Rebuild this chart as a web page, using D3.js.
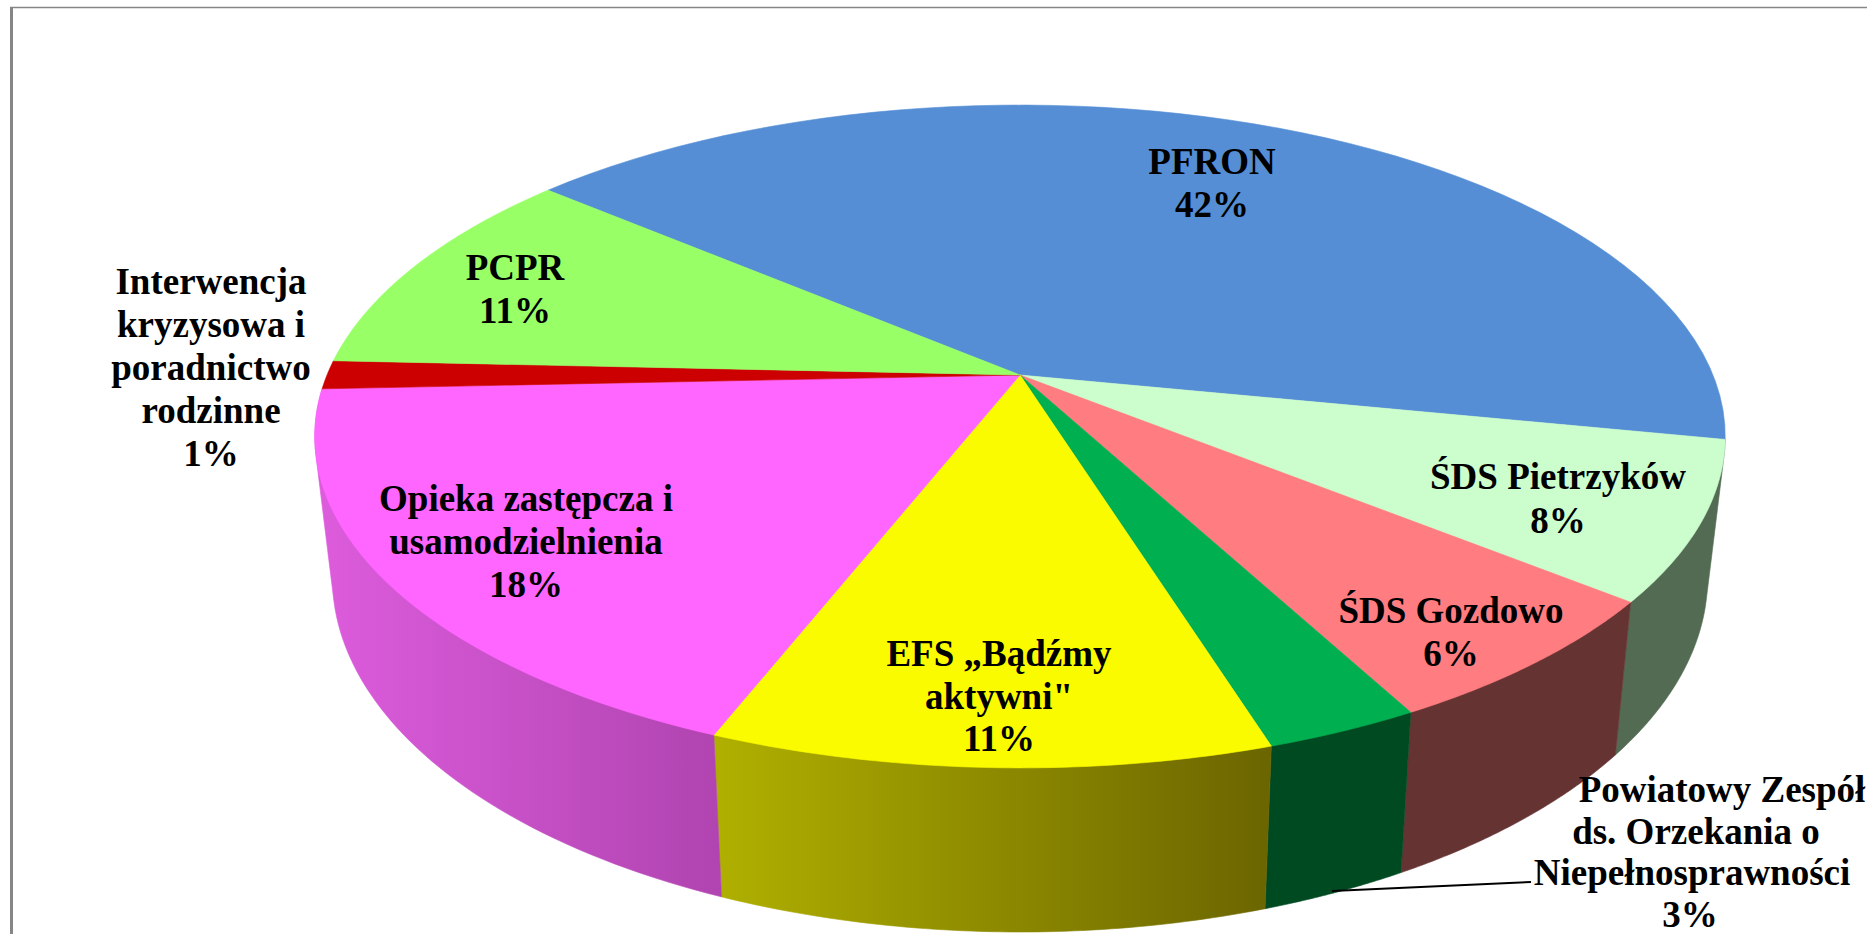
<!DOCTYPE html>
<html lang="pl">

<head>
    <meta charset="UTF-8">
    <title>Struktura finansowania</title>
    <script src="https://d3js.org/d3.v7.min.js"></script>
    <style>
        html, body { margin: 0; padding: 0; background: #fff; overflow: hidden; }
        svg { display: block; }
        .label {
            font-family: "Liberation Serif", serif;
            font-weight: bold;
            font-size: 37px;
            text-anchor: middle;
            fill: #000;
        }
    </style>
</head>

<body>
    <svg width="1867" height="934"></svg>

    <script>
        const categories = ["PFRON", "ŚDS Pietrzyków", "ŚDS Gozdowo", "Powiatowy Zespół ds. Orzekania o Niepełnosprawności",
            "EFS „Bądźmy aktywni\"", "Opieka zastępcza i usamodzielnienia", "Interwencja kryzysowa i poradnictwo rodzinne", "PCPR"];
        const shares = [42, 7.7, 6.4, 3, 10.8, 18.4, 1.4, 10.5];
        const topColors = ["#558ed5", "#ccfdcc", "#ff7c80", "#00b050", "#fbfb00", "#ff66ff", "#cc0000", "#99ff66"];
        const wallLeft = [null, "#536b53", "#663333", "#004a22", "#b0b000", "#dd5cdd", null, null];
        const wallRight = [null, "#536b53", "#663333", "#004a22", "#6b6500", "#b044b0", null, null];
        const labelLines = [
            ["PFRON"],
            ["ŚDS Pietrzyków"],
            ["ŚDS Gozdowo"],
            ["Powiatowy Zespół", "ds. Orzekania o", "Niepełnosprawności"],
            ["EFS „Bądźmy", "aktywni\""],
            ["Opieka zastępcza i", "usamodzielnienia"],
            ["Interwencja", "kryzysowa i", "poradnictwo", "rodzinne"],
            ["PCPR"]
        ];

        // layout of the labels: centre x and first baseline
        const labelX = [1212, 1558, 1451, 1692, 999, 526, 211, 515];
        const labelY = [174, 489, 623, 802, 666, 511, 294, 280];
        const lineX = { 3: [1722, 1696, 1692, 1690] };
        const lineH = [42.5, 43.5, 42.5, 41.5, 42.5, 43, 43, 42.5];

        const svg = d3.select("svg");
        const defs = svg.append("defs");

        // perspective view of the disc: apex position, radii and foreshortening
        const cx = 1020, cy = 375, ax = 693, by = 320, persp = 0.1855;
        const wallDrop = 137, wallScaleX = 0.975, wallScaleY = 1.069;

        function rim(theta) {
            const u = Math.sin(theta), v = -Math.cos(theta), w = 1 - persp * v;
            return [cx + ax * u / w, cy + by * v / w];
        }

        function bottomRim(theta) {
            const p = rim(theta);
            return [cx + wallScaleX * (p[0] - cx), cy + wallDrop + wallScaleY * (p[1] - cy)];
        }

        const startAngle = -49.7 * Math.PI / 180;
        const pie = d3.pie().sort(null).startAngle(startAngle).endAngle(startAngle + 2 * Math.PI);
        const arcs = pie(shares);
        const path = d3.line();

        function arcAngles(a0, a1) {
            return d3.range(0, 61).map(i => a0 + (a1 - a0) * i / 60);
        }

        // frame of the chart area, left side is thicker than the top
        svg.append("path")
            .attr("d", path([[11.5, 934], [11.5, 7]]))
            .attr("stroke", "#868686")
            .attr("stroke-width", 3);
        svg.append("path")
            .attr("d", path([[10, 7.5], [1867, 7.5]]))
            .attr("stroke", "#868686")
            .attr("stroke-width", 1.5);

        // side wall, the hull gives the straight silhouette at the far left and right
        arcs.forEach((d, i) => {
            if (!wallLeft[i]) return;
            const angles = arcAngles(d.startAngle, d.endAngle);
            const pts = d3.polygonHull(angles.map(rim).concat(angles.map(bottomRim)));
            const xs = d3.extent(pts, p => p[0]);
            const grad = defs.append("linearGradient")
                .attr("id", "wall" + i)
                .attr("gradientUnits", "userSpaceOnUse")
                .attr("x1", xs[0]).attr("x2", xs[1]).attr("y1", 0).attr("y2", 0);
            grad.append("stop").attr("offset", 0).attr("stop-color", wallLeft[i]);
            grad.append("stop").attr("offset", 1).attr("stop-color", wallRight[i]);
            svg.append("path")
                .attr("d", path(pts) + "Z")
                .attr("fill", "url(#wall" + i + ")")
                .attr("stroke", "url(#wall" + i + ")")
                .attr("stroke-width", 0.6);
        });

        // top face
        arcs.forEach((d, i) => {
            const pts = [[cx, cy]].concat(arcAngles(d.startAngle, d.endAngle).map(rim));
            svg.append("path")
                .attr("d", path(pts) + "Z")
                .attr("fill", topColors[i])
                .attr("stroke", topColors[i])
                .attr("stroke-width", 0.6);
        });

        // leader of the small slice
        svg.append("path")
            .attr("d", path([[1332, 891], [1531, 882]]))
            .attr("stroke", "#000")
            .attr("stroke-width", 2)
            .attr("fill", "none");

        // labels
        shares.forEach((v, i) => {
            const lines = labelLines[i].concat([Math.round(v) + "%"]);
            const text = svg.append("text").attr("class", "label").attr("y", labelY[i]);
            lines.forEach((line, k) => {
                text.append("tspan")
                    .attr("x", lineX[i] ? lineX[i][k] : labelX[i])
                    .attr("y", labelY[i] + k * lineH[i])
                    .text(line);
            });
        });
    </script>
</body>

</html>
